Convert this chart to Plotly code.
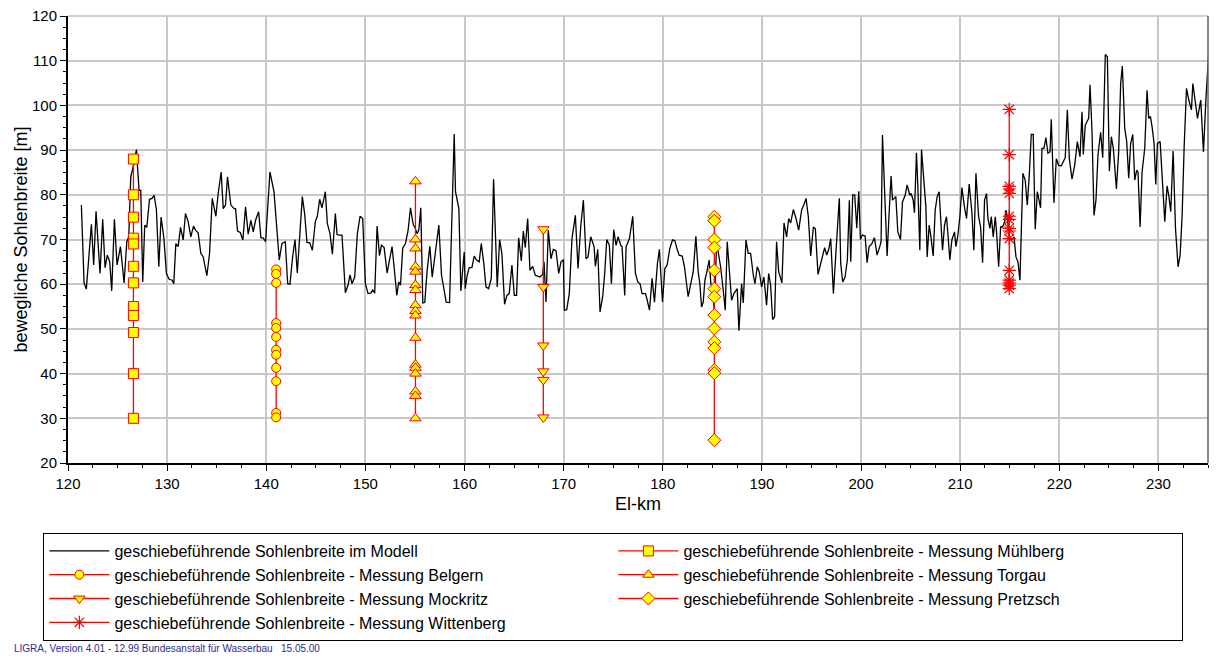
import plotly.graph_objects as go

# ---------------- data ----------------
model_km = [121.35, 121.62, 121.85, 122.36, 122.59, 122.83, 123.23, 123.50, 123.74, 123.97, 124.21, 124.41,
            124.68, 124.95, 125.29, 125.66, 125.93, 126.13, 126.33, 126.60, 126.90, 127.17, 127.34, 127.54,
            127.74, 127.95, 128.22, 128.48, 128.69, 128.92, 129.16, 129.39, 129.66, 129.93, 130.20, 130.51,
            130.67, 130.88, 131.11, 131.35, 131.62, 131.85, 132.12, 132.39, 132.66, 132.86, 133.13, 133.40,
            133.64, 134.01, 134.28, 134.55, 134.92, 135.15, 135.45, 135.66, 135.89, 136.09, 136.43, 136.77,
            136.90, 137.10, 137.37, 137.64, 137.91, 138.18, 138.45, 138.69, 138.92, 139.23, 139.46, 139.70,
            139.93, 140.37, 140.78, 141.08, 141.31, 141.58, 141.92, 142.16, 142.39, 142.66, 142.90, 143.13,
            143.40, 143.64, 143.87, 144.11, 144.38, 144.65, 144.95, 145.15, 145.39, 145.62, 145.96, 146.16,
            146.43, 146.67, 146.97, 147.14, 147.37, 147.64, 147.98, 148.25, 148.45, 148.65, 148.92, 149.19,
            149.46, 149.73, 150.00, 150.27, 150.54, 150.74, 150.94, 151.18, 151.42, 151.62, 151.89, 152.19,
            152.46, 152.69, 152.96, 153.17, 153.37, 153.54, 153.77, 154.04, 154.31, 154.55, 154.75, 154.85,
            154.98, 155.22, 155.39, 155.59, 155.79, 155.99, 156.23, 156.50, 156.74, 157.07, 157.41, 157.68,
            157.95, 158.15, 158.49, 158.69, 158.96, 159.09, 159.43, 159.63, 159.97, 160.07, 160.27, 160.47,
            160.74, 160.98, 161.21, 161.48, 161.69, 161.95, 162.16, 162.43, 162.70, 162.93, 163.13, 163.30,
            163.54, 163.77, 164.04, 164.28, 164.51, 164.78, 165.02, 165.25, 165.46, 165.73, 165.93, 166.13,
            166.37, 166.60, 166.87, 167.14, 167.38, 167.61, 167.88, 168.02, 168.22, 168.45, 168.72, 168.96,
            169.23, 169.50, 169.73, 169.97, 170.07, 170.31, 170.57, 170.84, 171.18, 171.45, 171.72, 171.99,
            172.26, 172.46, 172.73, 172.93, 173.07, 173.20, 173.44, 173.67, 173.94, 174.14, 174.35, 174.61,
            174.82, 175.05, 175.29, 175.49, 175.76, 175.89, 176.16, 176.30, 176.64, 176.97, 177.24, 177.48,
            177.71, 177.91, 178.25, 178.39, 178.66, 178.92, 179.16, 179.46, 179.66, 179.97, 180.21, 180.44,
            180.71, 180.98, 181.22, 181.45, 181.65, 181.96, 182.19, 182.56, 182.80, 183.07, 183.34, 183.57,
            183.74, 183.91, 184.08, 184.25, 184.41, 184.68, 184.85, 185.02, 185.19, 185.42, 185.59, 185.83,
            186.10, 186.30, 186.50, 186.77, 186.94, 187.17, 187.38, 187.51, 187.68, 187.95, 188.12, 188.39,
            188.62, 188.86, 189.13, 189.30, 189.53, 189.73, 189.97, 190.20, 190.47, 190.68, 190.88, 191.08,
            191.28, 191.48, 191.69, 192.02, 192.23, 192.49, 192.70, 192.90, 193.17, 193.44, 193.71, 194.01,
            194.25, 194.45, 194.68, 194.92, 195.19, 195.39, 195.66, 195.86, 196.13, 196.33, 196.54, 196.74,
            196.94, 197.21, 197.48, 197.81, 197.95, 198.15, 198.39, 198.62, 198.82, 198.96, 199.16, 199.36,
            199.57, 199.77, 199.94, 200.14, 200.41, 200.61, 200.81, 201.08, 201.35, 201.62, 201.89, 202.02,
            202.16, 202.43, 202.63, 202.83, 203.03, 203.17, 203.37, 203.51, 203.71, 203.98, 204.18, 204.45,
            204.65, 204.92, 205.05, 205.26, 205.39, 205.59, 205.73, 205.93, 206.10, 206.33, 206.54, 206.67,
            206.87, 207.01, 207.28, 207.48, 207.68, 207.88, 208.02, 208.22, 208.42, 208.62, 208.76, 208.96,
            209.16, 209.43, 209.57, 209.77, 209.97, 210.17, 210.44, 210.64, 210.91, 211.18, 211.38, 211.59,
            211.86, 212.06, 212.26, 212.46, 212.66, 212.80, 213.00, 213.14, 213.34, 213.54, 213.67, 213.88,
            214.08, 214.28, 214.48, 214.62, 214.75, 214.95, 215.16, 215.43, 215.63, 215.83, 216.03, 216.33,
            216.56, 216.77, 216.97, 217.17, 217.37, 217.57, 217.78, 218.11, 218.25, 218.45, 218.65, 218.85,
            219.06, 219.19, 219.46, 219.70, 219.93, 220.20, 220.40, 220.60, 220.81, 221.01, 221.28, 221.55,
            221.82, 222.09, 222.29, 222.42, 222.62, 222.83, 222.96, 223.10, 223.30, 223.50, 223.70, 223.90,
            224.17, 224.38, 224.64, 224.85, 225.05, 225.25, 225.45, 225.76, 225.99, 226.19, 226.36, 226.60,
            226.80, 227.00, 227.20, 227.41, 227.61, 227.81, 227.94, 228.15, 228.35, 228.62, 228.85, 229.02,
            229.19, 229.36, 229.56, 229.73, 229.90, 230.17, 230.37, 230.64, 230.87, 231.04, 231.24, 231.48,
            231.72, 231.98, 232.19, 232.39, 232.59, 232.83, 233.06, 233.33, 233.47, 233.67, 233.94, 234.27,
            234.54, 234.81, 235.02, 235.18]

model_width = [77.7, 60.3, 58.9, 73.4, 64.3, 76.3, 62.4, 74.5, 63.7, 66.5, 65.0, 58.5,
               74.5, 64.3, 68.4, 60.3, 69.5, 70.6, 84.0, 86.5, 90.1, 81.0, 81.0, 60.5,
               73.2, 72.7, 79.0, 79.2, 79.9, 76.6, 63.9, 75.0, 70.6, 62.4, 61.1, 60.9,
               60.1, 69.1, 68.4, 72.7, 69.9, 75.8, 74.0, 70.6, 73.0, 72.1, 71.5, 66.9,
               66.1, 61.9, 66.9, 79.2, 75.2, 80.3, 85.1, 76.9, 77.7, 84.0, 77.7, 76.9,
               76.9, 71.9, 71.6, 69.9, 77.3, 71.2, 74.3, 71.7, 74.3, 76.2, 70.4, 70.3,
               69.5, 85.1, 80.7, 71.3, 65.4, 69.1, 69.5, 60.1, 60.0, 66.1, 70.0, 62.5,
               72.8, 79.6, 75.8, 69.3, 69.3, 67.6, 74.0, 75.2, 79.0, 77.1, 80.7, 73.6,
               71.3, 66.7, 75.8, 71.1, 71.0, 71.0, 58.1, 59.8, 62.1, 60.1, 61.6, 71.3,
               75.2, 74.7, 60.1, 57.9, 58.0, 58.7, 58.0, 73.0, 66.4, 68.7, 68.2, 62.5,
               65.7, 68.4, 62.4, 57.5, 60.5, 59.8, 68.1, 69.1, 72.1, 77.1, 74.3, 73.2,
               72.8, 71.3, 72.1, 77.1, 55.8, 55.9, 63.1, 68.5, 61.6, 66.9, 73.2, 62.0,
               58.7, 56.0, 55.9, 74.3, 93.6, 80.7, 76.9, 58.5, 67.2, 59.0, 62.0, 63.7,
               63.7, 66.3, 65.4, 65.0, 69.1, 64.6, 59.4, 59.0, 61.3, 83.5, 70.6, 59.4,
               70.0, 66.9, 55.5, 57.5, 57.9, 64.3, 57.5, 57.5, 70.4, 65.2, 71.9, 68.2,
               74.7, 63.1, 64.0, 62.0, 61.8, 61.6, 62.2, 65.0, 56.0, 72.1, 65.7, 67.8,
               67.5, 62.4, 65.0, 65.5, 54.2, 54.3, 57.9, 70.2, 75.4, 63.5, 72.8, 78.8,
               65.7, 66.1, 70.6, 69.1, 68.4, 64.0, 67.8, 53.8, 57.2, 62.4, 70.0, 68.7,
               60.1, 72.2, 68.7, 70.6, 68.7, 68.4, 57.5, 68.4, 70.2, 75.2, 62.4, 60.5,
               60.1, 57.9, 57.9, 56.8, 54.2, 61.3, 56.0, 64.6, 67.8, 56.0, 63.5, 64.3,
               68.0, 69.9, 69.7, 67.8, 66.5, 66.3, 63.9, 57.2, 60.1, 62.8, 70.7, 62.8,
               60.1, 54.9, 56.0, 60.9, 62.4, 65.4, 60.1, 58.7, 54.2, 68.4, 67.2, 63.9,
               58.7, 54.2, 69.5, 62.4, 56.4, 57.9, 58.7, 59.0, 49.6, 60.1, 55.8, 69.9,
               66.9, 66.9, 62.0, 60.1, 63.9, 62.8, 59.4, 61.6, 55.3, 62.4, 59.8, 52.1,
               52.7, 69.5, 62.8, 60.3, 73.7, 70.6, 74.7, 73.7, 76.7, 74.7, 72.1, 76.6,
               77.9, 79.2, 75.1, 66.3, 72.8, 72.4, 62.2, 63.9, 66.5, 68.2, 66.5, 67.8,
               70.2, 57.9, 67.6, 79.2, 64.6, 60.5, 61.6, 65.4, 78.8, 65.0, 80.0, 80.0,
               72.5, 80.8, 70.0, 71.0, 70.8, 64.8, 68.4, 69.0, 70.4, 66.5, 68.4, 69.5,
               93.4, 79.6, 66.3, 75.8, 84.2, 78.8, 79.2, 79.6, 71.7, 70.0, 78.4, 79.9,
               82.2, 79.9, 80.3, 78.8, 76.0, 89.4, 81.8, 67.6, 90.1, 83.7, 77.3, 66.1,
               73.2, 71.3, 66.3, 76.6, 79.6, 80.7, 75.4, 67.6, 73.2, 75.1, 71.3, 65.4,
               69.9, 71.7, 68.4, 71.0, 75.1, 81.6, 77.2, 74.7, 82.4, 76.2, 67.6, 84.8,
               75.1, 72.8, 64.8, 78.8, 80.3, 74.7, 72.5, 75.1, 70.6, 75.1, 71.7, 63.9,
               72.8, 72.8, 74.0, 76.6, 75.1, 70.7, 69.9, 70.6, 66.1, 65.0, 60.9, 84.8,
               83.3, 77.7, 84.4, 93.5, 93.5, 72.3, 80.7, 77.1, 90.4, 90.4, 92.8, 89.3,
               89.6, 96.9, 78.2, 88.1, 86.6, 86.5, 87.4, 88.3, 99.0, 88.1, 83.5, 86.6,
               91.9, 88.5, 98.6, 89.0, 95.6, 96.7, 97.1, 104.6, 94.1, 75.4, 78.8, 88.9,
               94.0, 88.3, 111.4, 110.9, 85.3, 93.0, 90.4, 81.3, 89.6, 104.9, 108.8, 94.9,
               91.9, 83.7, 91.5, 93.5, 83.3, 85.5, 85.1, 72.8, 85.1, 90.4, 103.4, 97.1,
               97.5, 95.2, 91.5, 82.3, 91.5, 91.9, 83.7, 74.0, 82.0, 79.9, 76.2, 89.8,
               72.5, 63.9, 66.5, 75.4, 90.4, 103.8, 101.2, 99.0, 104.9, 101.2, 97.1, 101.2,
               89.6, 102.3, 109.8, 115.4]

km_muehlberg = 126.6
w_muehlberg = [88, 80, 75, 70.3, 69, 64, 60.3, 55, 53, 49.2, 40, 30]
km_belgern = 141.0
w_belgern = [63.3, 62.3, 60.3, 51.3, 50.2, 48.2, 45.3, 44.2, 41.3, 38.3, 31.2, 30.2]
km_torgau = 155.05
w_torgau = [83, 70, 68, 63.9, 62.8, 59.8, 58.7, 55.3, 54, 53, 48, 42, 41.3, 40, 36, 35, 30]
km_mockritz = 167.95
w_mockritz = [72.3, 59.4, 46.3, 40.5, 38.6, 30.2]
km_pretzsch = 185.2
w_pretzsch = [75.1, 74.2, 70, 68.2, 63.1, 59, 57.2, 53.1, 50.1, 47.1, 45.7, 40.8, 40.1, 25.1]
km_wittenberg = 214.95
w_wittenberg = [99.1, 89, 81.9, 81.3, 80.3, 75.2, 74.5, 72.5, 71.9, 70.2, 63.1, 60.9, 60.3, 59.8, 59]

x_ticks = [120, 130, 140, 150, 160, 170, 180, 190, 200, 210, 220, 230]
y_ticks = [20, 30, 40, 50, 60, 70, 80, 90, 100, 110, 120]

prefix = "geschiebeführende Sohlenbreite"
measurements = [
    ("Mühlberg", km_muehlberg, w_muehlberg, "square", 10),
    ("Belgern", km_belgern, w_belgern, "circle", 9),
    ("Torgau", km_torgau, w_torgau, "triangle-up", 10),
    ("Mockritz", km_mockritz, w_mockritz, "triangle-down", 10),
    ("Pretzsch", km_pretzsch, w_pretzsch, "diamond", 10),
]

FONT = "Liberation Sans, Arial, sans-serif"

fig = go.Figure()
fig.add_trace(go.Scatter(
    x=model_km, y=model_width, mode="lines",
    line=dict(color="black", width=1.3),
    name=prefix + " im Modell"))

for name, km, vals, sym, sz in measurements:
    fig.add_trace(go.Scatter(
        x=[km] * len(vals), y=vals, mode="lines+markers",
        line=dict(color="#ff0000", width=1.3),
        marker=dict(symbol=sym, size=sz, color="#ffff00",
                    line=dict(color="#ff0000", width=1)),
        name=prefix + " - Messung " + name))

fig.add_trace(go.Scatter(
    x=[km_wittenberg] * len(w_wittenberg), y=w_wittenberg, mode="lines+markers",
    line=dict(color="#ff0000", width=1.3),
    marker=dict(symbol="asterisk-open", size=11, color="#ff0000",
                line=dict(color="#ff0000", width=1.2)),
    name=prefix + " - Messung Wittenberg"))

axis_common = dict(
    showline=True, linecolor="black", linewidth=2,
    showgrid=True, gridcolor="#c8c8c8", gridwidth=1.5,
    ticks="outside", ticklen=6, tickwidth=1, tickcolor="black",
    tickfont=dict(family=FONT, size=15, color="black"),
    zeroline=False, ticklabeloverflow="allow",
)

fig.update_xaxes(
    range=[120, 235], tickvals=x_ticks, ticktext=[str(v) for v in x_ticks],
    minor=dict(dtick=2.5, ticks="outside", ticklen=3, tickcolor="black", showgrid=False),
    title=dict(text="El-km", font=dict(family=FONT, size=18, color="black"), standoff=6),
    **axis_common)
fig.update_yaxes(
    range=[20, 120], tickvals=y_ticks, ticktext=[str(v) for v in y_ticks],
    minor=dict(dtick=2.5, ticks="outside", ticklen=3, tickcolor="black", showgrid=False),
    title=dict(text="bewegliche Sohlenbreite [m]", font=dict(family=FONT, size=18, color="black"), standoff=0),
    **axis_common)

# top border (grey) and right border (dark grey) of the plot frame
fig.add_shape(type="line", xref="paper", yref="paper", x0=0, x1=1, y0=1, y1=1,
              line=dict(color="#c0c0c0", width=1.5), layer="below")
fig.add_shape(type="line", xref="paper", yref="paper", x0=1, x1=1, y0=0, y1=1,
              line=dict(color="#606060", width=1.5))

fig.add_annotation(
    text="LIGRA, Version 4.01 - 12.99 Bundesanstalt für Wasserbau   15.05.00",
    xref="paper", yref="paper", x=-0.049, y=-0.414, xanchor="left", yanchor="middle",
    showarrow=False, font=dict(family=FONT, size=10, color="#2b2b8f"))

# the page body adds an 8 px offset, so the figure is 8 px smaller on each side
fig.update_layout(
    width=1223, height=655,
    margin=dict(l=60, r=23, t=8, b=200, autoexpand=False),
    paper_bgcolor="white", plot_bgcolor="white",
    font=dict(family=FONT, color="black"),
    showlegend=True,
    legend=dict(
        orientation="h", x=-0.0216, y=-0.1566, xanchor="left", yanchor="top",
        entrywidth=494, entrywidthmode="pixels", itemwidth=60,
        bordercolor="black", borderwidth=1, bgcolor="white",
        font=dict(family=FONT, size=16, color="black"),
        tracegroupgap=0, itemsizing="trace"),
)

fig.write_html("out.html")
